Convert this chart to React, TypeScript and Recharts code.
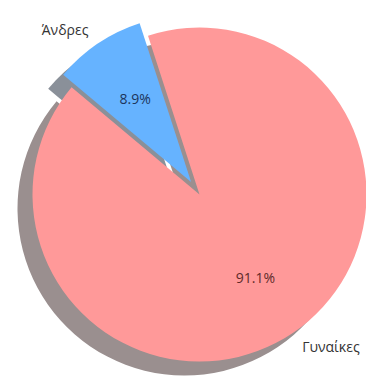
import React from "react";
import { PieChart, Pie, Cell } from "recharts";

const categories = ["Γυναίκες", "Άνδρες"];
const shares = [91.1, 8.9];
const sliceColors = ["#FF9999", "#66B3FF"];
const shadowColors = ["#9a8f8f", "#8a9099"];
const percentColors = ["#5e2a2a", "#1d355c"];
const explodeIdx = 1;

const data = categories.map((name, i) => ({ name, value: shares[i] }));

const CX = 194.5;
const CY = 189.5;
const R = 167;
const START = 140;
const EXPLODE = 15;
const SHADOW_DX = -15;
const SHADOW_DY = 14;
const FONT = "'Open Sans', 'Noto Sans', sans-serif";

// mid angle of exploded slice
const total = shares.reduce((a, b) => a + b, 0);
const before = shares.slice(0, explodeIdx).reduce((a, b) => a + b, 0);
const midExp = START + ((before + shares[explodeIdx] / 2) / total) * 360;
const EX = EXPLODE * Math.cos((midExp * Math.PI) / 180);
const EY = -EXPLODE * Math.sin((midExp * Math.PI) / 180);

const makeLabel = (visibleIdx: number) => (props: any) => {
  const { cx, cy, midAngle, outerRadius, index, percent } = props;
  if (index !== visibleIdx) return null;
  const rad = (midAngle * Math.PI) / 180;
  const c = Math.cos(rad);
  const s = Math.sin(rad);
  const ox = cx + outerRadius * 1.1 * c;
  const oy = cy - outerRadius * 1.1 * s;
  const ix = cx + outerRadius * 0.6 * c;
  const iy = cy - outerRadius * 0.6 * s;
  return (
    <g>
      <text
        x={ox}
        y={oy}
        textAnchor={c < 0 ? "end" : "start"}
        dominantBaseline="central"
        fontSize={14}
        fontFamily={FONT}
        fill="#333333"
      >
        {data[index].name}
      </text>
      <text
        x={ix}
        y={iy}
        textAnchor="middle"
        dominantBaseline="central"
        fontSize={14}
        fontFamily={FONT}
        fill={percentColors[index]}
      >
        {(percent * 100).toFixed(1) + "%"}
      </text>
    </g>
  );
};

export default function App() {
  return (
    <div style={{ position: "absolute", left: 0, top: 0, background: "#fff" }}>
      <PieChart width={366} height={376}>
        {/* shadows */}
        <Pie
          data={data}
          dataKey="value"
          cx={CX + SHADOW_DX}
          cy={CY + SHADOW_DY}
          outerRadius={R}
          startAngle={START}
          endAngle={START + 360}
          stroke="none"
          isAnimationActive={false}
          label={false}
          labelLine={false}
        >
          {data.map((d, i) => (
            <Cell key={d.name} fill={i === explodeIdx ? "transparent" : shadowColors[i]} />
          ))}
        </Pie>
        <Pie
          data={data}
          dataKey="value"
          cx={CX + EX + SHADOW_DX}
          cy={CY + EY + SHADOW_DY}
          outerRadius={R}
          startAngle={START}
          endAngle={START + 360}
          stroke="none"
          isAnimationActive={false}
          label={false}
          labelLine={false}
        >
          {data.map((d, i) => (
            <Cell key={d.name} fill={i === explodeIdx ? shadowColors[i] : "transparent"} />
          ))}
        </Pie>
        {/* main slices */}
        <Pie
          data={data}
          dataKey="value"
          cx={CX}
          cy={CY}
          outerRadius={R}
          startAngle={START}
          endAngle={START + 360}
          stroke="none"
          isAnimationActive={false}
          label={makeLabel(0)}
          labelLine={false}
        >
          {data.map((d, i) => (
            <Cell key={d.name} fill={i === explodeIdx ? "transparent" : sliceColors[i]} />
          ))}
        </Pie>
        <Pie
          data={data}
          dataKey="value"
          cx={CX + EX}
          cy={CY + EY}
          outerRadius={R}
          startAngle={START}
          endAngle={START + 360}
          stroke="none"
          isAnimationActive={false}
          label={makeLabel(explodeIdx)}
          labelLine={false}
        >
          {data.map((d, i) => (
            <Cell key={d.name} fill={i === explodeIdx ? sliceColors[i] : "transparent"} />
          ))}
        </Pie>
      </PieChart>
    </div>
  );
}
